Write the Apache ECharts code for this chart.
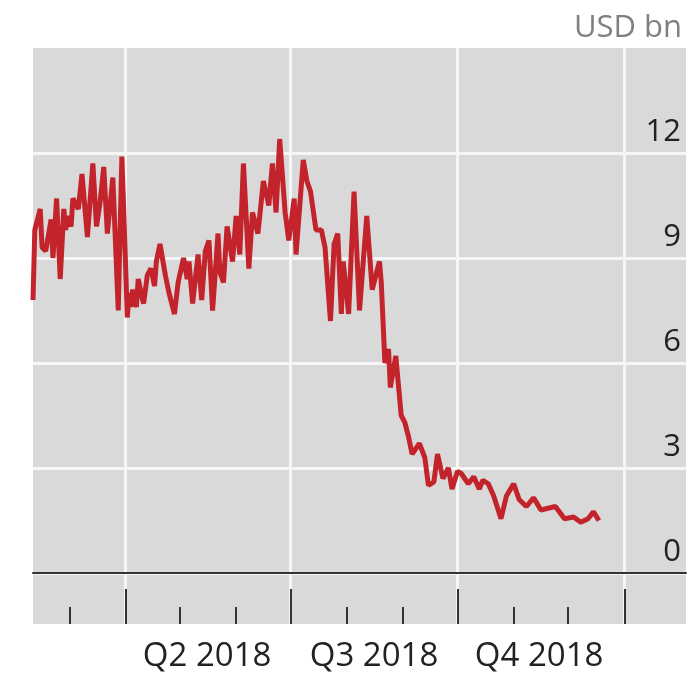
<!DOCTYPE html>
<html>
<head>
<meta charset="utf-8">
<script src="https://cdn.jsdelivr.net/npm/echarts@6/dist/echarts.min.js"></script>
<style>
  html, body { margin: 0; padding: 0; background: #fff; }
  #chart { width: 693px; height: 677px; }
</style>
</head>
<body>
<div id="chart"></div>
<script>
// daily outstanding, USD bn
const dates = [
  '2018-02-09', '2018-02-10', '2018-02-13', '2018-02-14', '2018-02-16', '2018-02-19', '2018-02-20', '2018-02-22', '2018-02-24', '2018-02-26', '2018-02-27', '2018-02-28',
  '2018-03-02', '2018-03-03', '2018-03-06', '2018-03-08', '2018-03-11', '2018-03-14', '2018-03-16', '2018-03-18', '2018-03-20', '2018-03-22', '2018-03-25', '2018-03-28', '2018-03-30',
  '2018-04-02', '2018-04-03', '2018-04-04', '2018-04-05', '2018-04-07', '2018-04-08', '2018-04-10', '2018-04-11', '2018-04-13', '2018-04-15', '2018-04-17', '2018-04-18', '2018-04-20', '2018-04-23', '2018-04-25', '2018-04-28', '2018-04-30',
  '2018-05-03', '2018-05-05', '2018-05-06', '2018-05-08', '2018-05-11', '2018-05-13', '2018-05-15', '2018-05-17', '2018-05-19', '2018-05-22', '2018-05-23', '2018-05-25', '2018-05-27', '2018-05-30',
  '2018-06-01', '2018-06-03', '2018-06-05', '2018-06-08', '2018-06-10', '2018-06-13', '2018-06-16', '2018-06-19', '2018-06-21', '2018-06-23', '2018-06-25', '2018-06-28', '2018-06-30',
  '2018-07-03', '2018-07-04', '2018-07-08', '2018-07-10', '2018-07-12', '2018-07-15', '2018-07-18', '2018-07-20', '2018-07-23', '2018-07-25', '2018-07-27', '2018-07-29', '2018-07-30',
  '2018-08-02', '2018-08-05', '2018-08-08', '2018-08-12', '2018-08-15', '2018-08-19', '2018-08-20', '2018-08-22', '2018-08-24', '2018-08-25', '2018-08-28', '2018-08-31',
  '2018-09-02', '2018-09-04', '2018-09-06', '2018-09-10', '2018-09-13', '2018-09-15', '2018-09-18', '2018-09-20', '2018-09-23', '2018-09-26', '2018-09-28',
  '2018-10-01', '2018-10-03', '2018-10-07', '2018-10-10', '2018-10-13', '2018-10-15', '2018-10-18', '2018-10-21', '2018-10-25', '2018-10-28',
  '2018-11-01', '2018-11-04', '2018-11-06', '2018-11-08', '2018-11-12', '2018-11-16', '2018-11-20', '2018-11-24', '2018-11-29',
  '2018-12-04', '2018-12-08', '2018-12-12', '2018-12-15', '2018-12-18'
]
const values = [
  7.8, 9.8, 10.4, 9.3, 9.2, 10.1, 9.0, 10.7, 8.4, 10.4, 9.8, 10.2,
  9.9, 10.7, 10.4, 11.4, 9.6, 11.7, 9.9, 10.6, 11.6, 9.7, 11.3, 7.5, 11.9,
  7.3, 8.0, 7.6, 8.1, 7.6, 8.4, 7.9, 7.7, 8.5, 8.7, 8.2, 8.9, 9.4, 8.5, 8.0, 7.4, 8.3,
  9.0, 8.4, 8.9, 7.7, 9.1, 7.8, 9.2, 9.5, 7.5, 9.7, 8.6, 8.3, 9.9, 8.9,
  10.2, 9.1, 11.7, 8.7, 10.3, 9.7, 11.2, 10.5, 11.7, 10.3, 12.4, 10.3, 9.5,
  10.7, 9.1, 11.8, 11.2, 10.9, 9.8, 9.8, 9.3, 7.2, 9.4, 9.7, 7.4, 8.9,
  7.4, 10.9, 7.5, 10.2, 8.1, 8.9, 8.3, 6.0, 6.4, 5.3, 6.2, 4.5,
  4.3, 3.9, 3.4, 3.7, 3.3, 2.5, 2.6, 3.4, 2.7, 3.0, 2.4,
  2.9, 2.85, 2.55, 2.75, 2.4, 2.65, 2.55, 2.2, 1.55, 2.2,
  2.55, 2.1, 2.0, 1.9, 2.15, 1.8, 1.85, 1.9, 1.55,
  1.6, 1.45, 1.55, 1.75, 1.5
]

const quarterStarts = ['2018-04-01', '2018-07-01', '2018-10-01', '2019-01-01']
const monthStarts = ['2018-03-01', '2018-05-01', '2018-06-01', '2018-08-01', '2018-09-01', '2018-11-01', '2018-12-01']
const quarterMids = ['2018-05-16', '2018-08-16', '2018-11-15']
const quarterLabels = ['Q2 2018', 'Q3 2018', 'Q4 2018']

const xMin = '2018-02-09'
const xMax = '2019-02-04'

// dates as day numbers so a plain value axis can take custom tick values
const ts = d => Date.UTC(+d.slice(0, 4), +d.slice(5, 7) - 1, +d.slice(8, 10)) / 86400000

const chart = echarts.init(document.getElementById('chart'))

const bg = '#d9d9d9'
const gridWhite = '#f6f6f6'
const font = 'Open Sans'
const midDays = quarterMids.map(ts)

chart.setOption({
  animation: false,
  grid: [
    { left: 33, right: 7, top: 48, height: 525, show: true, backgroundColor: bg, borderWidth: 0 },
    { left: 33, right: 7, top: 573, height: 51, show: true, backgroundColor: bg, borderWidth: 0 }
  ],
  xAxis: [
    {
      type: 'value',
      gridIndex: 0,
      min: ts(xMin),
      max: ts(xMax),
      axisLine: { show: true, onZero: false, lineStyle: { color: '#333', width: 2 } },
      axisTick: { show: false, customValues: quarterStarts.map(ts) },
      axisLabel: { show: false, customValues: quarterStarts.map(ts) },
      splitLine: { show: true, lineStyle: { color: gridWhite, width: 3 } }
    },
    {
      type: 'value',
      gridIndex: 1,
      position: 'bottom',
      min: ts(xMin),
      max: ts(xMax),
      axisLine: { show: false },
      axisTick: {
        show: true,
        inside: true,
        length: 35,
        customValues: quarterStarts.map(ts),
        lineStyle: { color: '#333', width: 2 }
      },
      axisLabel: {
        customValues: midDays,
        margin: 16,
        color: '#222',
        fontSize: 33,
        fontFamily: font,
        formatter: function (val) {
          const i = midDays.indexOf(val)
          return i >= 0 ? quarterLabels[i] : ''
        }
      },
      splitLine: { show: true, lineStyle: { color: gridWhite, width: 3 } }
    },
    {
      type: 'value',
      gridIndex: 1,
      position: 'bottom',
      min: ts(xMin),
      max: ts(xMax),
      axisLine: { show: false },
      axisTick: {
        show: true,
        inside: true,
        length: 17,
        customValues: monthStarts.map(ts),
        lineStyle: { color: '#333', width: 2 }
      },
      axisLabel: { show: false, customValues: monthStarts.map(ts) },
      splitLine: { show: false }
    }
  ],
  yAxis: [
    {
      type: 'value',
      gridIndex: 0,
      position: 'right',
      min: 0,
      max: 15,
      interval: 3,
      name: 'USD bn',
      nameLocation: 'end',
      nameGap: 4,
      nameTextStyle: {
        color: '#808080',
        fontSize: 31,
        fontFamily: font,
        align: 'right',
        verticalAlign: 'bottom',
        padding: [0, 4, 0, 0]
      },
      axisLine: { show: false },
      axisTick: { show: false },
      axisLabel: {
        inside: true,
        margin: 5,
        showMaxLabel: false,
        verticalAlign: 'bottom',
        padding: [0, 0, 5, 0],
        color: '#222',
        fontSize: 31,
        fontFamily: font
      },
      splitLine: { show: true, showMaxLine: false, lineStyle: { color: gridWhite, width: 3 } }
    },
    { type: 'value', gridIndex: 1, show: false, min: 0, max: 1 }
  ],
  series: [
    {
      type: 'line',
      xAxisIndex: 0,
      yAxisIndex: 0,
      data: dates.map((d, i) => [ts(d), values[i]]),
      showSymbol: false,
      lineStyle: { color: '#c3232b', width: 5 }
    }
  ]
})
</script>
</body>
</html>
